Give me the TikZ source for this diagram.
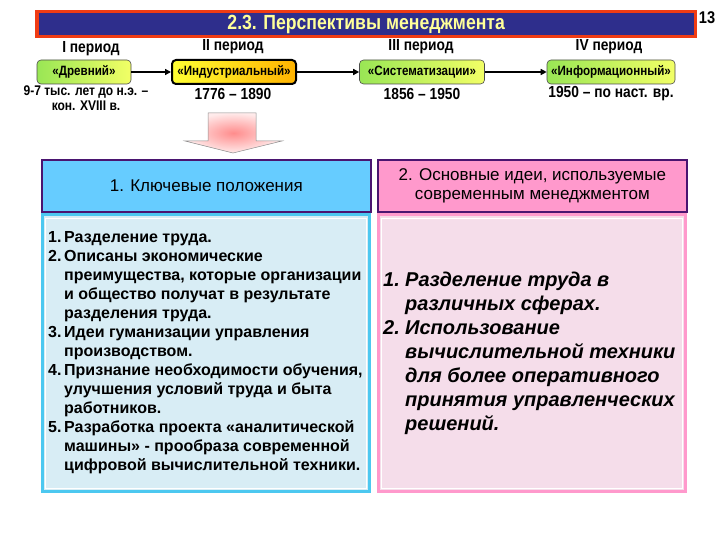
\documentclass[tikz,border=0pt]{standalone}
\usepackage{fontspec}
\setmainfont{Liberation Sans}
\newfontfamily\narrow[FakeStretch=0.86]{Liberation Sans}
\usetikzlibrary{arrows.meta,shapes.arrows}
\definecolor{titlered}{HTML}{F03C14}
\definecolor{titleblue}{HTML}{2E2E8C}
\definecolor{titletext}{HTML}{FFFF99}
\definecolor{hdrblue}{HTML}{66CCFF}
\definecolor{hdrpink}{HTML}{FF99CC}
\definecolor{hdrborder}{HTML}{4A1470}
\definecolor{lightblue}{HTML}{D8EDF5}
\definecolor{lightpink}{HTML}{F5DDEA}
\definecolor{cyanborder}{HTML}{4CC8F0}
\definecolor{pinkborder}{HTML}{FF99CC}
\definecolor{boxgreen}{HTML}{99E655}
\definecolor{boxyellow}{HTML}{F2FF66}
\tikzset{
  period/.style={font=\narrow\bfseries\fontsize{16}{18}\selectfont},
  ebox/.style={draw=black!70, line width=0.6pt, rounded corners=4pt, minimum width=94pt, minimum height=24pt,
    left color=boxgreen, right color=boxyellow, font=\narrow\bfseries\fontsize{13.5}{16}\selectfont, inner sep=1pt},
  years/.style={font=\narrow\bfseries\fontsize{16}{18}\selectfont},
  flow/.style={-{Triangle[length=6pt,width=6pt]}, line width=1.4pt},
  hdr/.style={draw=hdrborder, line width=1.6pt, minimum width=329pt, minimum height=52pt, inner sep=0pt, align=center, font=\fontsize{17}{19.5}\selectfont},
}
\begin{document}
\begin{tikzpicture}[x=1pt,y=-1pt]
\useasboundingbox (0,0) rectangle (720,540);
% title
\node[draw=none, fill=titlered, minimum width=662pt, minimum height=28pt, inner sep=0pt, anchor=north west] (titleouter) at (35,10) {};
\node[fill=titleblue, minimum width=655pt, minimum height=22pt, inner sep=0pt, text=titletext, font=\narrow\bfseries\fontsize{20.5}{22}\selectfont] (title) at (titleouter.center) {2.3. Перспективы менеджмента};
\node[font=\narrow\bfseries\fontsize{17}{19}\selectfont] (pagenum) at (707,18) {13};
% periods
\node[period] (p1) at (91,49) {I период};
\node[period] (p2) at (233,47) {II период};
\node[period] (p3) at (421,47) {III период};
\node[period] (p4) at (609,47) {IV период};
\node[ebox] (b1) at (84,72) {«Древний»};
\node[ebox, minimum width=124pt, draw=black, line width=2pt, left color=yellow!80!white, right color=orange!60!yellow] (b2) at (234,72) {«Индустриальный»};
\node[ebox, minimum width=125pt] (b3) at (422,72) {«Систематизации»};
\node[ebox, minimum width=128pt] (b4) at (611,72) {«Информационный»};
\draw[flow] (b1) -- (b2);
\draw[flow] (b2) -- (b3);
\draw[flow] (b3) -- (b4);
\node[years, font=\narrow\bfseries\fontsize{14}{15}\selectfont, align=center] (y1) at (86,98) {9-7 тыс. лет до н.э. –\\кон. XVIII в.};
\node[years] (y2) at (233,94) {1776 – 1890};
\node[years] (y3) at (422,94) {1856 – 1950};
\node[years] (y4) at (611,94) {1950 – по наст. вр.};
% big arrow
\shade[inner color=red!45!white, outer color=red!8!white, draw=black!45, line width=0.5pt]
  (208,113) -- (256,113) -- (256,141) -- (282,141) -- (233,153) -- (185,141) -- (208,141) -- cycle;
% headers
\node[hdr, fill=hdrblue, anchor=north west] (h1) at (41,159) {1. Ключевые положения};
\node[hdr, fill=hdrpink, anchor=north west, minimum width=309pt] (h2) at (377,159) {2. Основные идеи, используемые\\современным менеджментом};
% content boxes
\draw[fill=lightblue, draw=cyanborder, line width=3pt] (42,215) rectangle (369,491);
\draw[white, line width=0.6pt] (45,218) rectangle (366,488);
\draw[fill=lightpink, draw=pinkborder, line width=3pt] (378,215) rectangle (685,491);
\draw[white, line width=0.6pt] (381,218) rectangle (682,488);
\node[anchor=north west, align=left, inner sep=0pt, font=\bfseries\fontsize{16}{19}\selectfont] (t1) at (48,231) {%
\makebox[16pt][l]{1.}Разделение труда.\\
\makebox[16pt][l]{2.}Описаны экономические\\
\hspace*{16pt}преимущества, которые организации\\
\hspace*{16pt}и общество получат в результате\\
\hspace*{16pt}разделения труда.\\
\makebox[16pt][l]{3.}Идеи гуманизации управления\\
\hspace*{16pt}производством.\\
\makebox[16pt][l]{4.}Признание необходимости обучения,\\
\hspace*{16pt}улучшения условий труда и быта\\
\hspace*{16pt}работников.\\
\makebox[16pt][l]{5.}Разработка проекта «аналитической\\
\hspace*{16pt}машины» - прообраза современной\\
\hspace*{16pt}цифровой вычислительной техники.};
\node[anchor=north west, align=left, inner sep=0pt, font=\bfseries\itshape\fontsize{20}{24}\selectfont] (t2) at (383,272) {%
\makebox[22pt][l]{1.}Разделение труда в\\
\hspace*{22pt}различных сферах.\\
\makebox[22pt][l]{2.}Использование\\
\hspace*{22pt}вычислительной техники\\
\hspace*{22pt}для более оперативного\\
\hspace*{22pt}принятия управленческих\\
\hspace*{22pt}решений.};
\end{tikzpicture}
\end{document}
